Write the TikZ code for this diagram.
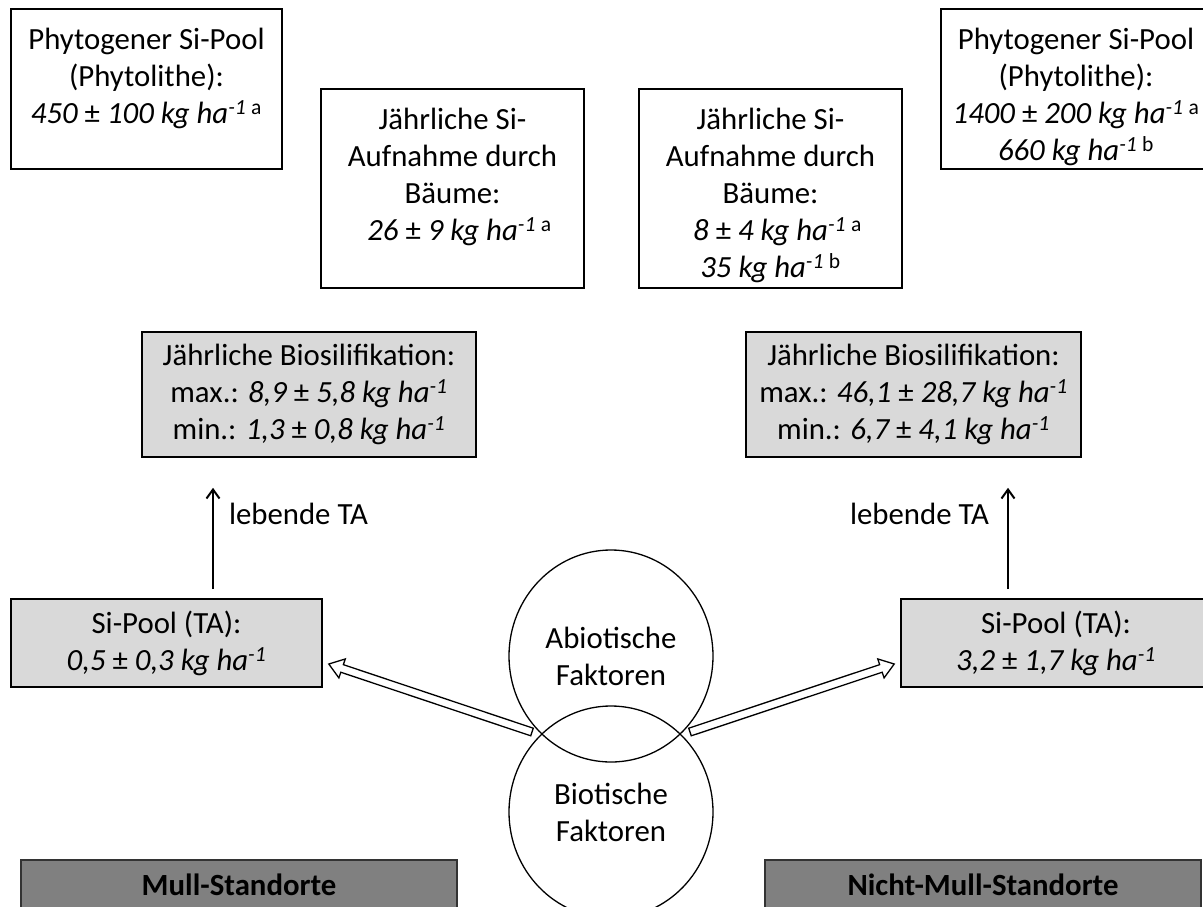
\documentclass[tikz,border=0pt]{standalone}
\usepackage{fontspec}
\setmainfont{Carlito}
\usepackage{tikz}
\usetikzlibrary{arrows.meta,shapes.geometric,calc,positioning}

\definecolor{poolgray}{HTML}{D9D9D9}
\definecolor{sitegray}{HTML}{808080}

% italic values, upright plus-minus and footnote letters
\newcommand{\kgha}{kg ha\textsuperscript{-1}}
\newcommand{\pmu}{{\upshape ±}}
\newcommand{\fn}[1]{\textsuperscript{\upshape\ #1}}

% hollow block arrow from #1 to #2
\newcommand{\hollowarrow}[2]{%
  \path ($(#2)!14pt!(#1)$) coordinate (neck);
  \draw[hollow] ($(#1)!4pt!90:(#2)$) -- ($(neck)!4pt!-90:(#1)$)
    -- ($(neck)!10pt!-90:(#1)$) -- (#2) -- ($(neck)!10pt!90:(#1)$)
    -- ($(neck)!4pt!90:(#1)$) -- ($(#1)!4pt!-90:(#2)$) -- cycle;}

\begin{document}
\begin{tikzpicture}[x=1pt, y=-1pt, line width=1.6pt,
  every node/.style={font=\fontsize{30.8}{37}\selectfont},
  frame/.style={draw, rectangle, inner sep=0pt},
  poolbox/.style={frame, fill=poolgray, align=center, execute at begin node={\rule{0pt}{36pt}}},
  sitebox/.style={frame, fill=sitegray, draw=black!80, minimum width=436pt, minimum height=50pt, font=\fontsize{30.8}{37}\selectfont\bfseries},
  factor/.style={draw, ellipse, minimum width=204pt, minimum height=212pt, inner sep=0pt, align=center, line width=1.3pt},
  boxtext/.style={inner sep=0pt, anchor=north, align=center, execute at begin node=\strut},
  uparrow/.style={-{Straight Barb[length=9pt,width=13pt]}, line width=2pt},
  hollow/.style={line width=1.3pt, fill=white, line join=miter},
  flowlabel/.style={inner sep=0pt}]
%%%%% Frame %%%%%
\useasboundingbox (0,0) rectangle (1203,906);
\clip (0,0) rectangle (1203,906);

%%%%% Top boxes %%%%%
\node[frame, minimum width=271pt, minimum height=160pt] (phyL) at (146.5,89) {};
\node[boxtext] (phyLtxt) at ([yshift=-19pt]phyL.north) {Phytogener Si-Pool\\(Phytolithe):\\\textit{450 \pmu{} 100 \kgha}\fn{a}};
\node[frame, minimum width=263pt, minimum height=199pt] (aufL) at (452.5,188.5) {};
\node[boxtext] (aufLtxt) at ([yshift=-19pt]aufL.north) {Jährliche Si-\\Aufnahme durch\\Bäume:\\\hspace*{14pt}\textit{26 \pmu{} 9 \kgha}\fn{a}};
\node[frame, minimum width=263pt, minimum height=199pt] (aufR) at (770.5,188.5) {};
\node[boxtext] (aufRtxt) at ([yshift=-19pt]aufR.north) {Jährliche Si-\\Aufnahme durch\\Bäume:\\\hspace*{14pt}\textit{8 \pmu{} 4 \kgha}\fn{a}\\\textit{35 \kgha}\fn{b}};
\node[frame, minimum width=270pt, minimum height=160pt] (phyR) at (1076,89) {};
\node[boxtext] (phyRtxt) at ([yshift=-19pt]phyR.north) {Phytogener Si-Pool\\(Phytolithe):\\\textit{1400 \pmu{} 200 \kgha}\fn{a}\\\textit{660 \kgha}\fn{b}};

%%%%% Biosilification %%%%%
\node[poolbox, minimum width=334pt, minimum height=125pt] (bioL) at (309,394.5) {Jährliche Biosilifikation:\\max.: \textit{8,9 \pmu{} 5,8 \kgha}\\min.: \textit{1,3 \pmu{} 0,8 \kgha}};
\node[poolbox, minimum width=335pt, minimum height=125pt] (bioR) at (913.5,394.5) {Jährliche Biosilifikation:\\max.: \textit{46,1 \pmu{} 28,7 \kgha}\\min.: \textit{6,7 \pmu{} 4,1 \kgha}};

%%%%% Si pools %%%%%
\node[poolbox, minimum width=311pt, minimum height=88pt] (poolL) at (166.5,643) {Si-Pool (TA):\\\textit{0,5 \pmu{} 0,3 \kgha}};
\node[poolbox, minimum width=310pt, minimum height=88pt] (poolR) at (1056,643) {Si-Pool (TA):\\\textit{3,2 \pmu{} 1,7 \kgha}};

\coordinate (axL) at (213,0);
\coordinate (axR) at (1008,0);
\draw[uparrow, shorten <=9pt, shorten >=30pt] (poolL.north -| axL) -- node[flowlabel, pos=0.6, anchor=west, xshift=15pt] (labL) {lebende TA} (bioL.south -| axL);
\draw[uparrow, shorten <=9pt, shorten >=30pt] (poolR.north -| axR) -- node[flowlabel, pos=0.6, anchor=east, xshift=-18pt] (labR) {lebende TA} (bioR.south -| axR);

%%%%% Factors %%%%%
\node[factor] (abio) at (611,656) {Abiotische\\Faktoren};
\node[factor] (biot) at (611,812) {Biotische\\Faktoren};

\coordinate (srcL) at (532,732);
\coordinate (srcR) at (690,732);
\coordinate (tipL) at ([xshift=6pt,yshift=-21pt]poolL.east);
\coordinate (tipR) at ([xshift=-6pt,yshift=-21pt]poolR.west);
\hollowarrow{srcL}{tipL}
\hollowarrow{srcR}{tipR}

%%%%% Sites %%%%%
\node[sitebox] (mull) at (239,885) {Mull-Standorte};
\node[sitebox] (nmull) at (983,885) {Nicht-Mull-Standorte};
\end{tikzpicture}
\end{document}
